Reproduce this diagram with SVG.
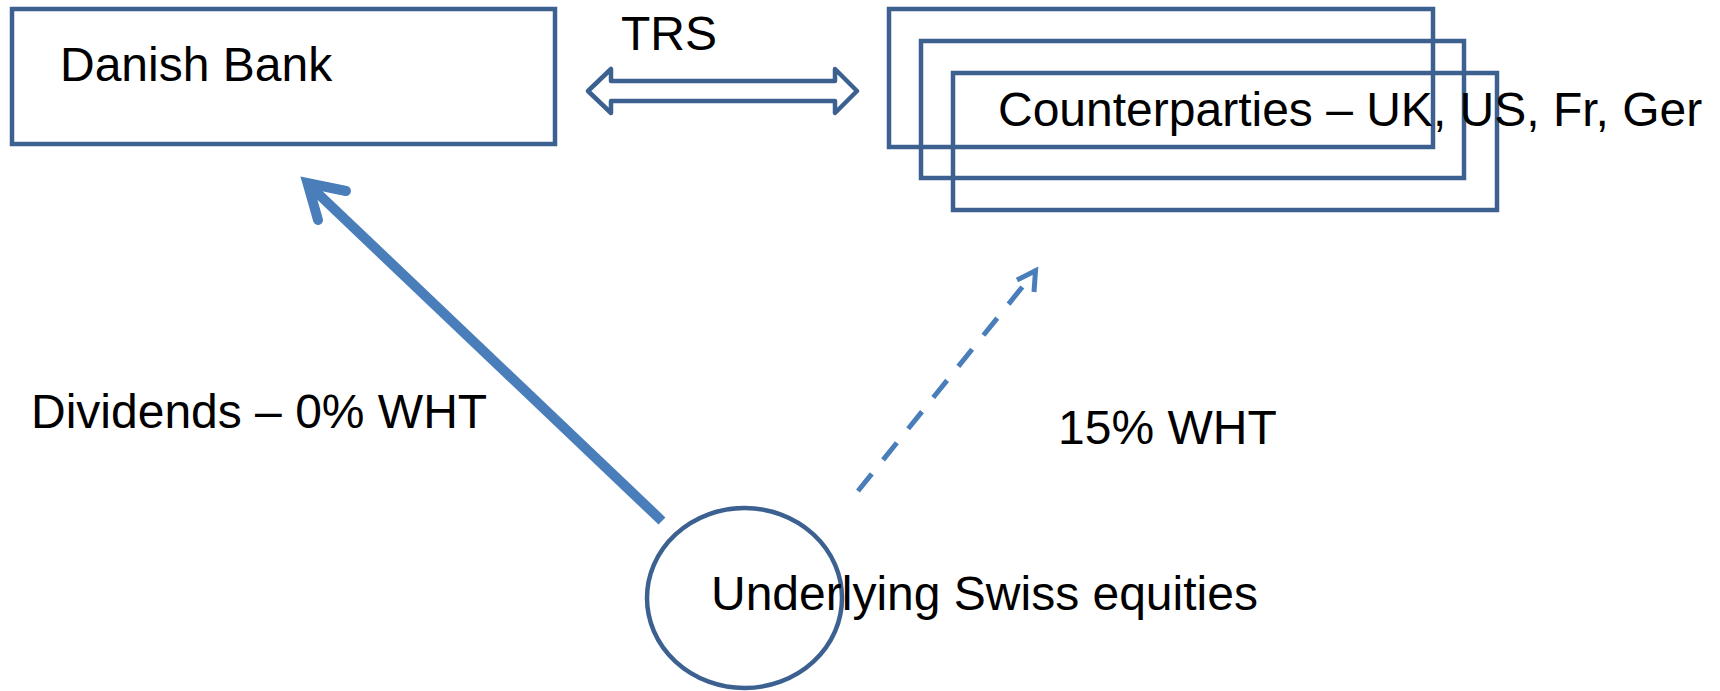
<svg xmlns="http://www.w3.org/2000/svg" width="1720" height="691" viewBox="0 0 1720 691">
<style>
.box{fill:none;stroke:#3C6190;stroke-width:4.5}
.lbl{font-family:"Liberation Sans",Arial,sans-serif;font-size:48px;fill:#000}
.arr{fill:none;stroke:#4A7EBB}
</style>
<rect width="1720" height="691" fill="#fff"/>
<g id="danish-bank">
<rect class="box" x="12" y="9" width="543" height="135"/>
<text class="lbl" x="60" y="81">Danish Bank</text>
</g>
<g id="counterparties">
<rect class="box" x="889" y="9" width="544" height="138"/>
<rect class="box" x="921" y="41" width="543" height="137"/>
<rect class="box" x="953" y="73" width="544" height="137"/>
<text class="lbl" x="998" y="126">Counterparties – UK, US, Fr, Ger</text>
</g>
<g id="swiss-equities">
<ellipse class="box" cx="744.5" cy="598" rx="97.5" ry="90"/>
<text class="lbl" x="711" y="610">Underlying Swiss equities</text>
</g>
<g id="connectors">
<g id="trs">
<polygon class="box" stroke-linejoin="round" points="588,91 611,69 611,81 835,81 835,69 857,91 835,113 835,101 611,101 611,113"/>
<text class="lbl" x="621" y="50">TRS</text>
</g>
<g id="dividends">
<line class="arr" stroke-width="10" x1="662" y1="521" x2="310" y2="186"/>
<polyline class="arr" stroke-width="10" stroke-linecap="round" stroke-linejoin="miter" points="346,191 307.5,183 318,220"/>
<text class="lbl" x="31" y="428">Dividends – 0% WHT</text>
</g>
<g id="wht15">
<line class="arr" stroke-width="5" stroke-dasharray="22 18" x1="858" y1="491" x2="1036" y2="270"/>
<polyline class="arr" stroke-width="5" stroke-linejoin="miter" points="1017,280 1035.5,270.7 1034,292"/>
<text class="lbl" x="1058" y="444">15% WHT</text>
</g>
</g>
</svg>
